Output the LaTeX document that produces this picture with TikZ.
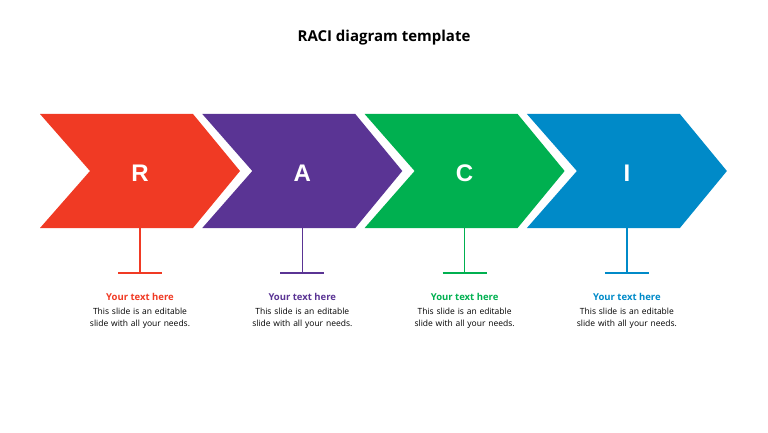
\documentclass[tikz,border=0pt]{standalone}
\usepackage{fontspec}
\setmainfont{Open Sans}
\newfontfamily\letterfont{Liberation Sans}
\usetikzlibrary{positioning}
\definecolor{raciR}{HTML}{F03A24}
\definecolor{raciA}{HTML}{5A3494}
\definecolor{raciC}{HTML}{00B050}
\definecolor{raciI}{HTML}{008AC8}
\tikzset{
  chev/.style={fill=#1,draw=none},
  lead/.style={font=\letterfont\bfseries\fontsize{24}{28}\selectfont,text=white},
  caption/.style={font=\bfseries\fontsize{9.5}{11}\selectfont,text=#1},
  body/.style={font=\fontsize{8.5}{12}\selectfont,align=center,text width=110pt}
}
\begin{document}
\begin{tikzpicture}[x=1pt,y=-1pt]
  \useasboundingbox (0,0) rectangle (768,433);
  \node[font=\bfseries\fontsize{15}{18}\selectfont] (title) at (384,38) {RACI diagram template};
  \foreach \i/\l/\c in {0/R/raciR,1/A/raciA,2/C/raciC,3/I/raciI}{
    \pgfmathsetmacro{\x}{40+162.3*\i}
    \fill[chev=\c] (\x,114) -- ++(153,0) -- ++(47,57) -- ++(-47,57) -- ++(-153,0) -- ++(50,-57) -- cycle;
    \node[lead] (lead\l) at (\x+100,173) {\l};
    \coordinate (top\l) at (\x+100,228);
    \coordinate (foot\l) at (\x+100,273);
    \draw[\c,line width=1.2pt] (top\l) -- (foot\l);
    \draw[\c,line width=1.2pt] ([xshift=-22pt]foot\l) -- ([xshift=22pt]foot\l);
    \node[caption=\c] (cap\l) at (\x+100,297) {Your text here};
    \node[body,below=0pt of cap\l] (txt\l) {This slide is an editable slide with all your needs.};
  }
\end{tikzpicture}
\end{document}
